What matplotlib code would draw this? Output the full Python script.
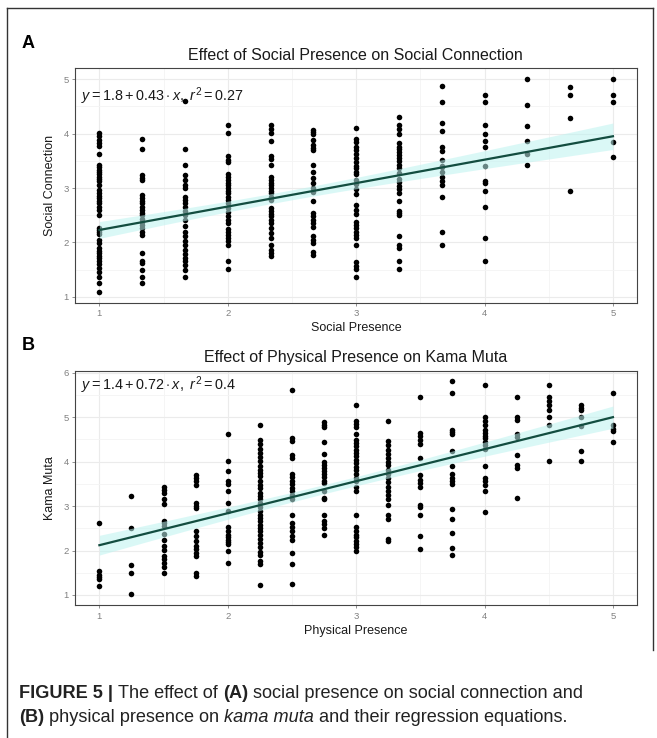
import numpy as np
import matplotlib
matplotlib.use('Agg')
import matplotlib.pyplot as plt
from matplotlib.lines import Line2D

plt.rcParams['font.family'] = ['Liberation Sans', 'DejaVu Sans']
plt.rcParams['mathtext.fontset'] = 'custom'
plt.rcParams['mathtext.rm'] = 'Liberation Sans'
plt.rcParams['mathtext.it'] = 'Liberation Sans:italic'
plt.rcParams['mathtext.bf'] = 'Liberation Sans:bold'

# Panel A: social presence (x levels) vs social connection (y per level)
social_presence = [1, 4 / 3, 5 / 3, 2, 7 / 3, 8 / 3, 3, 10 / 3, 11 / 3, 4, 13 / 3, 14 / 3, 5]
social_connection = [
    [4.01, 3.95, 3.88, 3.82, 3.77, 3.62, 3.43, 3.38, 3.33, 3.29, 3.25, 3.21, 3.16, 3.12, 3.05, 2.97, 2.90, 2.86,
     2.81, 2.76, 2.72, 2.66, 2.60, 2.51, 2.27, 2.23, 2.19, 2.15, 2.05, 1.99, 1.89, 1.84, 1.80, 1.76, 1.71, 1.66,
     1.60, 1.53, 1.45, 1.37, 1.25, 1.10],
    [3.90, 3.72, 3.24, 3.19, 3.15, 2.87, 2.82, 2.76, 2.72, 2.66, 2.60, 2.55, 2.51, 2.44, 2.38, 2.32, 2.26, 2.20,
     2.14, 1.81, 1.66, 1.62, 1.49, 1.37, 1.25],
    [4.59, 3.72, 3.43, 3.23, 3.15, 3.06, 3.00, 2.84, 2.78, 2.72, 2.66, 2.57, 2.51, 2.42, 2.30, 2.20, 2.11, 2.03,
     1.95, 1.86, 1.78, 1.72, 1.66, 1.59, 1.49, 1.37],
    [4.16, 4.01, 3.58, 3.52, 3.47, 3.25, 3.21, 3.15, 3.09, 3.05, 3.00, 2.95, 2.90, 2.84, 2.78, 2.72, 2.63, 2.56,
     2.48, 2.41, 2.35, 2.25, 2.19, 2.14, 2.08, 2.02, 1.95, 1.66, 1.51],
    [4.16, 4.08, 4.01, 3.86, 3.58, 3.54, 3.43, 3.21, 3.15, 3.09, 3.05, 3.00, 2.95, 2.90, 2.84, 2.78, 2.63, 2.58,
     2.52, 2.48, 2.41, 2.35, 2.26, 2.17, 2.08, 1.95, 1.86, 1.80, 1.76],
    [4.07, 4.03, 3.99, 3.88, 3.79, 3.74, 3.70, 3.43, 3.30, 3.18, 3.09, 3.00, 2.92, 2.76, 2.54, 2.48, 2.41, 2.35,
     2.29, 2.11, 2.05, 1.99, 1.83, 1.77],
    [4.10, 3.90, 3.85, 3.76, 3.70, 3.62, 3.55, 3.47, 3.41, 3.36, 3.30, 3.25, 3.15, 3.07, 2.98, 2.89, 2.68, 2.60,
     2.52, 2.38, 2.32, 2.26, 2.20, 2.14, 2.08, 1.95, 1.64, 1.57, 1.51, 1.37],
    [4.30, 4.15, 4.09, 4.00, 3.82, 3.76, 3.72, 3.67, 3.61, 3.55, 3.50, 3.43, 3.36, 3.27, 3.17, 3.11, 3.03, 2.98,
     2.90, 2.76, 2.58, 2.54, 2.51, 2.11, 1.95, 1.89, 1.66, 1.51],
    [4.87, 4.58, 4.19, 4.04, 3.76, 3.68, 3.52, 3.41, 3.38, 3.29, 3.21, 3.13, 3.06, 2.84, 2.19, 1.95],
    [4.71, 4.57, 4.15, 4.00, 3.87, 3.75, 3.41, 3.13, 3.09, 2.95, 2.66, 2.09, 1.66],
    [5.00, 4.52, 4.14, 3.87, 3.62, 3.43],
    [4.85, 4.71, 4.28, 2.95],
    [5.00, 4.71, 4.57, 3.85, 3.57],
]
fit_a = (1.8, 0.43, 0.27)  # intercept, slope, r^2 as printed

# Panel B: physical presence (x levels) vs kama muta (y per level)
physical_presence = [1, 1.25, 1.5, 1.75, 2, 2.25, 2.5, 2.75, 3, 3.25, 3.5, 3.75, 4, 4.25, 4.5, 4.75, 5]
kama_muta = [
    [2.62, 1.53, 1.46, 1.40, 1.35, 1.20],
    [3.22, 2.51, 1.68, 1.50, 1.02],
    [3.44, 3.37, 3.29, 3.15, 3.05, 2.67, 2.62, 2.55, 2.38, 2.23, 2.10, 2.02, 1.87, 1.80, 1.72, 1.62, 1.50],
    [3.71, 3.63, 3.56, 3.47, 3.07, 3.00, 2.96, 2.44, 2.33, 2.22, 2.10, 2.03, 1.95, 1.87, 1.50, 1.42],
    [4.62, 4.01, 3.80, 3.56, 3.50, 3.34, 3.07, 2.90, 2.52, 2.43, 2.36, 2.30, 2.24, 2.19, 2.14, 1.99, 1.72],
    [4.82, 4.49, 4.40, 4.29, 4.19, 4.10, 4.01, 3.90, 3.82, 3.74, 3.67, 3.56, 3.48, 3.41, 3.30, 3.22, 3.15, 3.07,
     2.97, 2.88, 2.81, 2.73, 2.66, 2.58, 2.51, 2.43, 2.36, 2.27, 2.17, 2.07, 1.97, 1.89, 1.77, 1.70, 1.22],
    [5.62, 4.53, 4.47, 4.16, 4.08, 3.72, 3.65, 3.57, 3.50, 3.41, 3.33, 3.24, 3.15, 2.81, 2.62, 2.53, 2.44, 2.33,
     2.23, 1.95, 1.69, 1.25],
    [4.89, 4.83, 4.77, 4.44, 4.17, 3.99, 3.92, 3.86, 3.78, 3.72, 3.65, 3.57, 3.52, 3.35, 3.18, 3.15, 2.81, 2.66,
     2.59, 2.50, 2.34],
    [5.27, 4.91, 4.85, 4.77, 4.62, 4.49, 4.42, 4.34, 4.27, 4.19, 4.12, 4.04, 3.97, 3.89, 3.82, 3.72, 3.63, 3.56,
     3.44, 3.35, 2.81, 2.52, 2.43, 2.36, 2.30, 2.22, 2.15, 2.07, 2.00],
    [4.91, 4.46, 4.37, 4.27, 4.17, 4.08, 3.99, 3.92, 3.82, 3.72, 3.63, 3.54, 3.44, 3.35, 3.26, 3.15, 3.03, 2.81,
     2.72, 2.27, 2.21],
    [5.45, 4.64, 4.57, 4.49, 4.40, 4.08, 3.69, 3.59, 3.52, 3.44, 3.03, 2.97, 2.81, 2.33, 2.03],
    [5.81, 5.54, 4.72, 4.67, 4.61, 4.25, 3.90, 3.72, 3.63, 3.56, 3.50, 2.94, 2.72, 2.40, 2.06, 1.90],
    [5.72, 5.00, 4.91, 4.82, 4.72, 4.64, 4.57, 4.52, 4.44, 4.37, 4.29, 3.90, 3.63, 3.56, 3.48, 3.35, 2.87],
    [5.45, 5.00, 4.93, 4.62, 4.55, 4.16, 3.93, 3.86, 3.18],
    [5.72, 5.45, 5.36, 5.27, 5.17, 5.00, 4.82, 4.01],
    [5.27, 5.21, 5.15, 5.00, 4.80, 4.25, 4.01],
    [5.54, 4.82, 4.74, 4.69, 4.44],
]
fit_b = (1.4, 0.72, 0.4)

LINE_COL = '#134d40'
BAND_COL = '#bdf3f0'
TICK_COL = '#7f7f7f'


def flatten(levels, columns):
    xs = np.concatenate([np.full(len(c), lv) for lv, c in zip(levels, columns)])
    ys = np.concatenate([np.asarray(c) for c in columns])
    return xs, ys


def draw_panel(ax, levels, columns, fit, title, xlabel, ylabel, ylim, yticks, eq_y):
    x, y = flatten(levels, columns)
    b0, b1, r2 = fit
    ax.scatter(x, y, s=16, color='black', linewidths=0, zorder=2)

    # confidence band around the printed regression line
    xx = np.linspace(min(levels), max(levels), 100)
    resid = y - (b0 + b1 * x)
    n = len(x)
    se = np.sqrt(np.sum(resid ** 2) / (n - 2))
    sxx = np.sum((x - x.mean()) ** 2)
    half = 1.97 * se * np.sqrt(1 / n + (xx - x.mean()) ** 2 / sxx)
    fit_line = b0 + b1 * xx
    ax.fill_between(xx, fit_line - half, fit_line + half, color=BAND_COL, alpha=0.55, lw=0, zorder=3)
    ax.plot(xx, fit_line, color=LINE_COL, lw=1.6, zorder=4)

    ax.set_xlim(0.81, 5.185)
    ax.set_ylim(*ylim)
    ax.set_xticks([1, 2, 3, 4, 5])
    ax.set_yticks(yticks)
    ax.set_xticks(np.arange(1.5, 5, 1), minor=True)
    ax.set_yticks(np.arange(yticks[0] + 0.5, yticks[-1], 1), minor=True)
    ax.grid(which='major', color='#ebebeb', lw=0.8, zorder=0)
    ax.grid(which='minor', color='#f4f4f4', lw=0.6, zorder=0)
    ax.set_axisbelow(True)
    ax.tick_params(which='major', length=2.5, width=0.6, color=TICK_COL, labelcolor='#808080',
                   labelsize=6.8, pad=2)
    ax.tick_params(which='minor', length=0)
    for sp in ax.spines.values():
        sp.set_color('#444444')
        sp.set_linewidth(0.8)
    ax.set_title(title, fontsize=11.5, color='#1a1a1a', pad=6)
    ax.set_xlabel(xlabel, fontsize=9, color='#1a1a1a', labelpad=3)
    ax.set_ylabel(ylabel, fontsize=9, color='#1a1a1a', labelpad=5)

    eq = r'$y = %s + %s \cdot x,\ r^2 = %s$' % (b0, b1, r2)
    ax.text(0.86, eq_y, eq, fontsize=10.4, color='#1a1a1a', va='center', ha='left', zorder=5)


W, H = 657, 738
fig = plt.figure(figsize=(W / 100, H / 100), dpi=100)

ax_a = fig.add_axes([75 / W, 1 - 302.7 / H, (636.7 - 75) / W, (302.7 - 68.3) / H])
ax_b = fig.add_axes([75 / W, 1 - 605.3 / H, (636.7 - 75) / W, (605.3 - 370.7) / H])

draw_panel(ax_a, social_presence, social_connection, fit_a,
           'Effect of Social Presence on Social Connection', 'Social Presence', 'Social Connection',
           (0.895, 5.197), [1, 2, 3, 4, 5], 4.69)
draw_panel(ax_b, physical_presence, kama_muta, fit_b,
           'Effect of Physical Presence on Kama Muta', 'Physical Presence', 'Kama Muta',
           (0.768, 6.045), [1, 2, 3, 4, 5, 6], 5.72)

fig.text(22 / W, 1 - 44 / H, 'A', fontsize=13, fontweight='bold', va='center', ha='left')
fig.text(22 / W, 1 - 346 / H, 'B', fontsize=13, fontweight='bold', va='center', ha='left')

# frame around the figure
fig.add_artist(Line2D([7 / W, 7 / W], [0, 1 - 7.5 / H], color='#333333', lw=1.0))
fig.add_artist(Line2D([7 / W, 653 / W], [1 - 7.5 / H, 1 - 7.5 / H], color='#333333', lw=1.0))
fig.add_artist(Line2D([653 / W, 653 / W], [1 - 7.5 / H, 1 - 650 / H], color='#333333', lw=1.0))

# caption with mixed styles
caption_lines = [
    [('FIGURE 5 | ', 'bold', 'normal'), ('The effect of ', 'normal', 'normal'), ('(A)', 'bold', 'normal'),
     (' social presence on social connection and', 'normal', 'normal')],
    [('(B)', 'bold', 'normal'), (' physical presence on ', 'normal', 'normal'), ('kama muta', 'normal', 'italic'),
     (' and their regression equations.', 'normal', 'normal')],
]
caption_y = [693, 718]
fig.canvas.draw()
renderer = fig.canvas.get_renderer()
for pieces, ypix in zip(caption_lines, caption_y):
    xpix = 19
    for txt, weight, style in pieces:
        t = fig.text(xpix / W, 1 - ypix / H, txt, fontsize=13.1, fontweight=weight, fontstyle=style,
                     color='#222222', va='center', ha='left')
        bb = t.get_window_extent(renderer)
        xpix += bb.width

fig.savefig('out.png', dpi=100)
